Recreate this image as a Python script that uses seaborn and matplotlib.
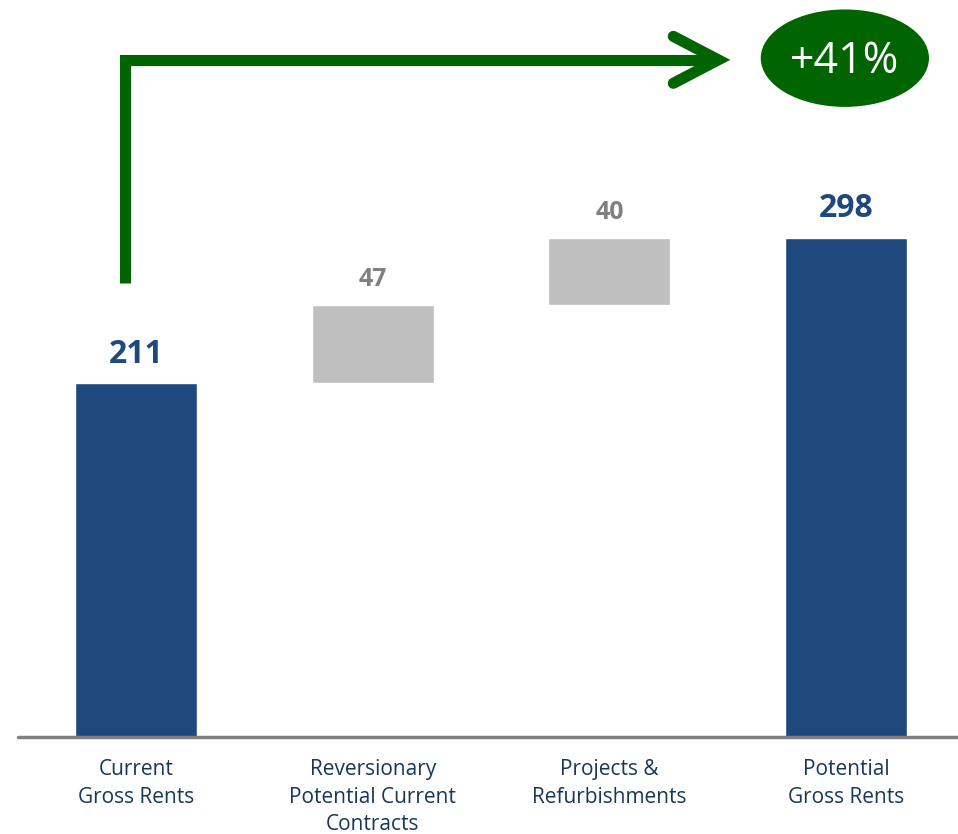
import matplotlib
matplotlib.use('Agg')
import matplotlib.pyplot as plt
from matplotlib.patches import Ellipse
import seaborn as sns
import pandas as pd

categories = ['Current\nGross Rents', 'Reversionary\nPotential Current\nContracts',
              'Projects &\nRefurbishments', 'Potential\nGross Rents']
values = [211, 47, 40, 298]
bottoms = [0, 211, 258, 0]
kinds = ['total', 'step', 'step', 'total']
growth_label = '+41%'

blue = '#1F497D'
grey = '#BFBFBF'
green = '#006400'

sns.set_style('white')
plt.rcParams['font.family'] = ['Open Sans', 'DejaVu Sans']

fig = plt.figure(figsize=(9.58, 8.34), dpi=100)
ax = fig.add_axes([0, 1 - 737 / 834, 1, 737 / 834])

df = pd.DataFrame({'cat': categories, 'val': values, 'bottom': bottoms, 'kind': kinds})

# one call per bar so each gets its own floating bottom
for _, row in df.iterrows():
    c = blue if row['kind'] == 'total' else grey
    sns.barplot(data=df[df['cat'] == row['cat']], x='cat', y='val', order=categories,
                color=c, width=0.515, bottom=row['bottom'], saturation=1, ax=ax)

ax.set_xlim(-0.575, 3.473)
ax.set_ylim(0, 439.7)

for i, (v, b, k) in enumerate(zip(values, bottoms, kinds)):
    c = blue if k == 'total' else '#808080'
    fs = 23 if k == 'total' else 18
    ax.annotate(str(v), (i, v + b), xytext=(0, 9), textcoords='offset points',
                ha='center', va='bottom', fontsize=fs, fontweight='bold', color=c)

# baseline
ax.axhline(0, xmin=18 / 958, xmax=1, color='#808080', lw=2.5, clip_on=False)

# growth arrow
x0 = -0.046
y_start = 271
y_top = 404
x_tip = 2.46
ax.plot([x0, x0, x_tip - 0.02], [y_start, y_top, y_top], color=green, lw=8,
        solid_joinstyle='miter', solid_capstyle='butt')
ax.plot([x_tip - 0.19, x_tip, x_tip - 0.19], [y_top + 14, y_top, y_top - 14], color=green,
        lw=8, solid_capstyle='round', solid_joinstyle='miter')

ax.add_patch(Ellipse((2.995, 405), 0.705, 57.3, color=green, clip_on=False))
ax.text(2.995, 403, growth_label, ha='center', va='center', color='white', fontsize=31)

ax.set_xticks(range(len(categories)))
ax.set_xticklabels(categories, fontsize=15, color='#17375E', linespacing=1.4)
ax.tick_params(axis='x', length=0, pad=16)
ax.set_yticks([])
ax.set_xlabel('')
ax.set_ylabel('')
sns.despine(ax=ax, left=True, bottom=True)

fig.savefig('out.png', dpi=100)
